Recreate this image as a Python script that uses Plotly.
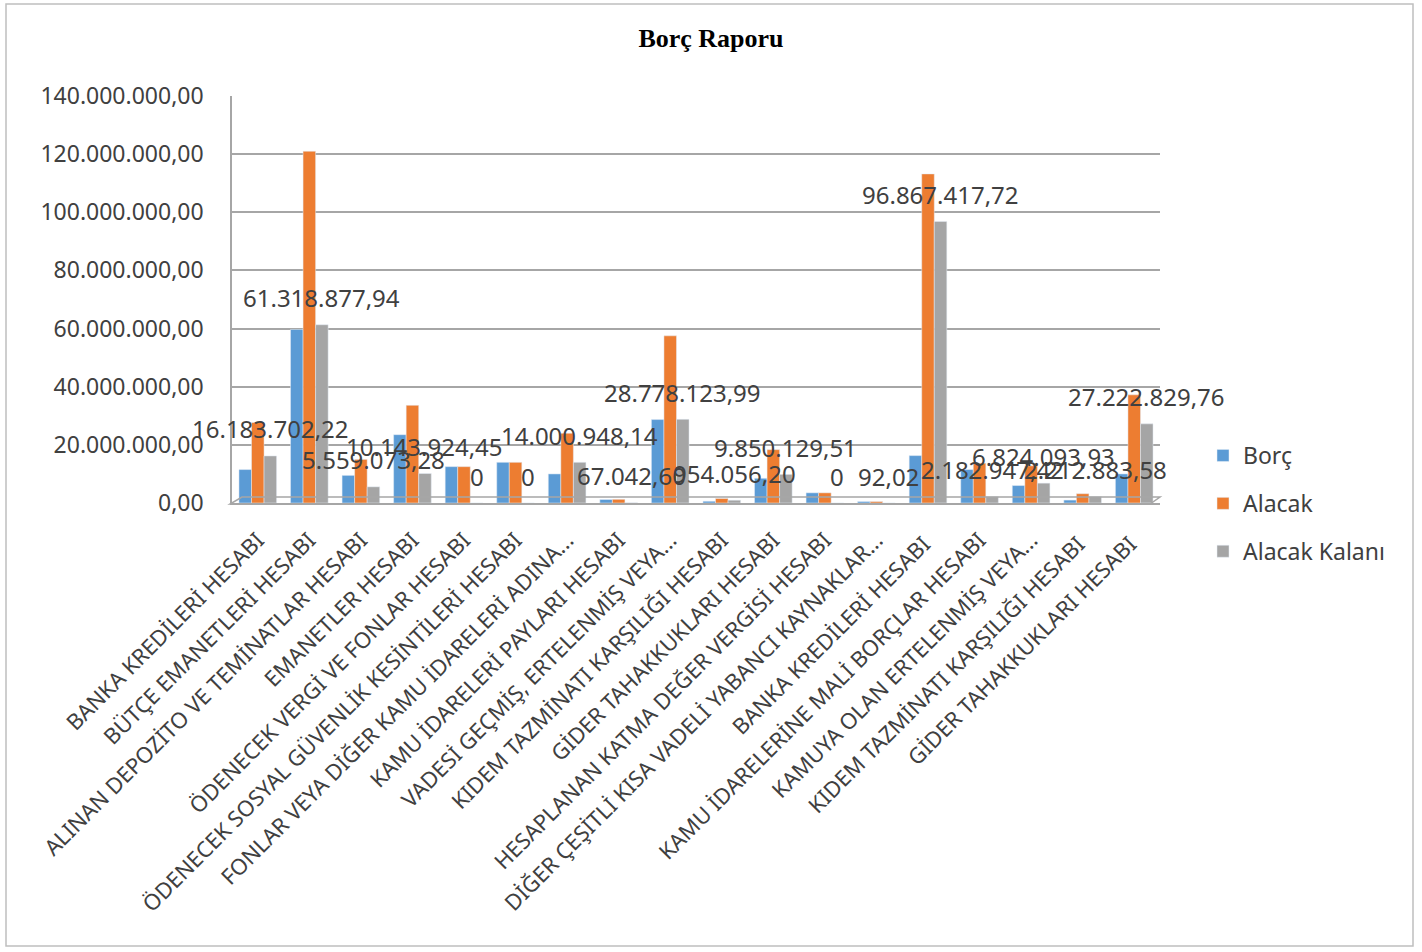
import plotly.graph_objects as go

categories = [
    "BANKA KREDİLERİ HESABI",
    "BÜTÇE EMANETLERİ HESABI",
    "ALINAN DEPOZİTO VE TEMİNATLAR HESABI",
    "EMANETLER HESABI",
    "ÖDENECEK VERGİ VE FONLAR HESABI",
    "ÖDENECEK SOSYAL GÜVENLİK KESİNTİLERİ HESABI",
    "FONLAR VEYA DİĞER KAMU İDARELERİ ADINA...",
    "KAMU İDARELERİ PAYLARI HESABI",
    "VADESİ GEÇMİŞ, ERTELENMİŞ VEYA...",
    "KIDEM TAZMİNATI KARŞILIĞI HESABI",
    "GİDER TAHAKKUKLARI HESABI",
    "HESAPLANAN KATMA DEĞER VERGİSİ HESABI",
    "DİĞER ÇEŞİTLİ KISA VADELİ YABANCI KAYNAKLAR...",
    "BANKA KREDİLERİ HESABI ",
    "KAMU İDARELERİNE MALİ BORÇLAR HESABI",
    "KAMUYA OLAN ERTELENMİŞ VEYA...",
    "KIDEM TAZMİNATI KARŞILIĞI HESABI ",
    "GİDER TAHAKKUKLARI HESABI ",
]

borc = [11.5e6, 59.7e6, 9.5e6, 23.5e6, 12.5e6, 14.0e6, 10.0e6, 1.2e6, 28.7e6,
        0.6e6, 8.5e6, 3.5e6, 0.5e6, 16.3e6, 11.5e6, 6.0e6, 1.0e6, 10.0e6]
alacak = [27.7e6, 121.0e6, 15.0e6, 33.6e6, 12.5e6, 14.0e6, 24.0e6, 1.27e6, 57.5e6,
          1.55e6, 18.35e6, 3.5e6, 0.5e6, 113.2e6, 13.7e6, 12.8e6, 3.2e6, 37.2e6]
alacak_kalani = [16183702.22, 61318877.94, 5559073.28, 10143924.45, 0, 0,
                 14000948.14, 67042.60, 28778123.99, 954056.20, 9850129.51, 0,
                 92.02, 96867417.72, 2182947.42, 6824093.93, 2212883.58, 27222829.76]
kalan_labels = ["16.183.702,22", "61.318.877,94", "5.559.073,28", "10.143.924,45", "0", "0",
                "14.000.948,14", "67.042,60", "28.778.123,99", "954.056,20", "9.850.129,51", "0",
                "92,02", "96.867.417,72", "2.182.947,42", "6.824.093,93", "2.212.883,58",
                "27.222.829,76"]

y_tickvals = [0, 20e6, 40e6, 60e6, 80e6, 100e6, 120e6, 140e6]
y_ticktext = ["0,00", "20.000.000,00", "40.000.000,00", "60.000.000,00",
              "80.000.000,00", "100.000.000,00", "120.000.000,00", "140.000.000,00"]

W, H = 1422, 952
L, R, T, B = 232, 1160, 96, 503
BARGAP = 0.27

def px_x(p):
    return (p - L) / (R - L)

def px_y(p):
    return (B - p) / (B - T)

# width of one bar in pixels (3 bars per group)
bar_px = (R - L) / len(categories) * (1 - BARGAP) / 3

fig = go.Figure()
fig.add_trace(go.Bar(x=categories, y=borc, name="Borç", marker_color="#5B9BD5",
                     legendgroup="a"))
fig.add_trace(go.Bar(x=categories, y=alacak, name="Alacak", marker_color="#ED7D31",
                     legendgroup="b"))
fig.add_trace(go.Bar(x=categories, y=alacak_kalani, name="Alacak Kalanı",
                     marker_color="#A5A5A5", legendgroup="c"))

# data labels of the "Alacak Kalanı" series, centred over its bars
for i, (val, lab) in enumerate(zip(alacak_kalani, kalan_labels)):
    fig.add_annotation(x=i, y=val, text=lab, showarrow=False,
                       xshift=bar_px, yshift=27, yanchor="middle", xanchor="center",
                       font=dict(family="Noto Sans", size=24, color="#404040"))

fig.update_layout(
    width=W, height=H,
    margin=dict(l=L, r=W - R, t=T, b=H - B),
    paper_bgcolor="white", plot_bgcolor="white",
    barmode="group", bargap=BARGAP, bargroupgap=0.0,
    title=dict(text="<b>Borç Raporu</b>", x=0.5, xanchor="center",
               y=1 - 38 / H, yanchor="middle",
               font=dict(family="Liberation Serif", size=26, color="#000000")),
    font=dict(family="Noto Sans", color="#404040"),
    legend=dict(x=px_x(1203), xanchor="left", y=px_y(434), yanchor="top",
                font=dict(family="Noto Sans", size=23, color="#404040"),
                tracegroupgap=15, itemwidth=30, bgcolor="rgba(0,0,0,0)"),
    showlegend=True,
)
fig.update_yaxes(range=[0, 140e6], tickvals=y_tickvals, ticktext=y_ticktext,
                 showgrid=True, gridcolor="#A6A6A6", gridwidth=1.5,
                 showline=True, linecolor="#A6A6A6", linewidth=1.5,
                 tickfont=dict(family="Noto Sans", size=23, color="#404040"),
                 ticks="", ticklabelstandoff=22, zeroline=False)
fig.update_xaxes(type="category", categoryorder="array", categoryarray=categories,
                 range=[-0.5, len(categories) - 0.5],
                 tickangle=-45, showline=True, linecolor="#A6A6A6", linewidth=1.5,
                 tickfont=dict(family="Noto Sans", size=22, color="#404040"),
                 ticks="", ticklabelstandoff=14, showgrid=False)

# 3D-like floor under the bars
fig.add_shape(type="path", xref="paper", yref="paper",
              path=(f"M {px_x(230)} {px_y(504)} L {px_x(1150)} {px_y(504)} "
                    f"L {px_x(1160)} {px_y(497)} L {px_x(242)} {px_y(497)} Z"),
              line=dict(color="#A6A6A6", width=1.5), fillcolor="rgba(0,0,0,0)", layer="above")

# outer chart border
fig.add_shape(type="rect", xref="paper", yref="paper",
              x0=px_x(6), x1=px_x(1413), y0=px_y(946), y1=px_y(4),
              line=dict(color="#BFBFBF", width=1.5), fillcolor="rgba(0,0,0,0)", layer="below")

fig.write_html("out.html")
